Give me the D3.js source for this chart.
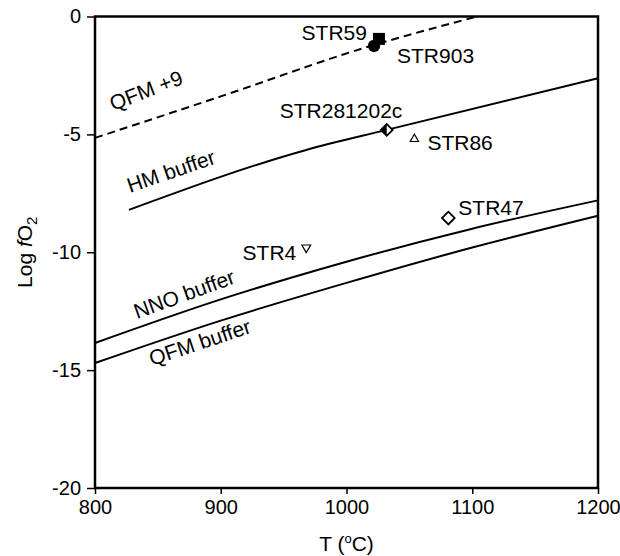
<!DOCTYPE html>
<html>
<head>
<meta charset="utf-8">
<script src="https://cdn.jsdelivr.net/npm/d3@7"></script>
<style>
  html, body { margin: 0; padding: 0; background: #fff; }
  svg { display: block; font-family: "Liberation Sans", Arial, Helvetica, sans-serif; }
</style>
</head>
<body>
<svg id="chart" width="620" height="556"></svg>
<script>
// ---- data ----
const xTicks = [800, 900, 1000, 1100, 1200];
const yTicks = [0, -5, -10, -15, -20];

const bufferT = [800, 900, 1000, 1100, 1200];
const nnoLog = [-13.85, -12.0, -10.4, -9.0, -7.8];
const qfmLog = [-14.7, -12.9, -11.3, -9.8, -8.45];

const hmT = [827, 968, 1032, 1200];
const hmLog = [-8.2, -5.66, -4.81, -2.62];

const qfm9T = [800, 900, 1013, 1104];
const qfm9Log = [-5.15, -3.39, -1.35, 0];

const sampleNames = ["STR59", "STR903", "STR281202c", "STR86", "STR47", "STR4"];
const sampleT = [1025.8, 1021.9, 1032, 1054, 1081, 968];
const sampleLog = [-0.95, -1.25, -4.81, -5.2, -8.55, -9.8];
const sampleSymbol = ["square", "circle", "halfDiamond", "triangleUp", "diamond", "triangleDown"];

// ---- layout / style ----
const W = 620, H = 556;
const m = { left: 95, right: 22, top: 16.5, bottom: 68 };
const svg = d3.select("#chart");

const x = d3.scaleLinear().domain([800, 1200]).range([m.left, W - m.right]);
const y = d3.scaleLinear().domain([-20, 0]).range([H - m.bottom, m.top]);

const line = d3.line().x(d => x(d[0])).y(d => y(d[1])).curve(d3.curveMonotoneX);

// buffer curves
svg.append("path").datum(d3.zip(bufferT, nnoLog)).attr("d", line)
  .attr("fill", "none").attr("stroke", "#000").attr("stroke-width", 2);
svg.append("path").datum(d3.zip(bufferT, qfmLog)).attr("d", line)
  .attr("fill", "none").attr("stroke", "#000").attr("stroke-width", 2);
svg.append("path").datum(d3.zip(hmT, hmLog)).attr("d", line)
  .attr("fill", "none").attr("stroke", "#000").attr("stroke-width", 2);
svg.append("path").datum(d3.zip(qfm9T, qfm9Log)).attr("d", line)
  .attr("fill", "none").attr("stroke", "#000").attr("stroke-width", 2)
  .attr("stroke-dasharray", "8,5");

// curve labels (rotated)
const curveLabels = [
  { text: "QFM +9", px: 113, py: 111, rot: -21 },
  { text: "HM buffer", px: 130, py: 193, rot: -19 },
  { text: "NNO buffer", px: 137, py: 319, rot: -20 },
  { text: "QFM buffer", px: 152, py: 366, rot: -18.5 }
];
svg.selectAll("text.curve").data(curveLabels).join("text")
  .attr("class", "curve")
  .attr("transform", d => `translate(${d.px},${d.py}) rotate(${d.rot})`)
  .attr("font-size", 21).text(d => d.text);

// frame
svg.append("rect")
  .attr("x", x(800)).attr("y", y(0))
  .attr("width", x(1200) - x(800)).attr("height", y(-20) - y(0))
  .attr("fill", "none").attr("stroke", "#000").attr("stroke-width", 2.5);

// axes
const xAxis = svg.append("g").attr("transform", `translate(0,${y(-20)})`)
  .call(d3.axisBottom(x).tickValues(xTicks).tickSize(6).tickPadding(6).tickFormat(d3.format("d")));
const yAxis = svg.append("g").attr("transform", `translate(${x(800)},0)`)
  .call(d3.axisLeft(y).tickValues(yTicks).tickSize(8).tickPadding(6).tickFormat(d => d === 0 ? "0" : String(d)));
[xAxis, yAxis].forEach(g => {
  g.select(".domain").remove();
  g.selectAll(".tick line").attr("stroke", "#000").attr("stroke-width", 1.5);
  g.selectAll(".tick text").attr("font-size", 20).attr("fill", "#000")
    .attr("font-family", "Liberation Sans, Arial, sans-serif");
});

// axis titles
const xt = svg.append("text").attr("x", (x(800) + x(1200)) / 2).attr("y", 551)
  .attr("text-anchor", "middle").attr("font-size", 21);
xt.append("tspan").text("T (");
xt.append("tspan").attr("font-size", 13).attr("dy", -8).text("o");
xt.append("tspan").attr("dy", 8).text("C)");

const yt = svg.append("text")
  .attr("transform", `translate(32,${(y(0) + y(-20)) / 2}) rotate(-90)`)
  .attr("text-anchor", "middle").attr("font-size", 21);
yt.append("tspan").text("Log ");
yt.append("tspan").attr("font-style", "italic").text("f");
yt.append("tspan").text("O");
yt.append("tspan").attr("font-size", 15).attr("dy", 5).text("2");

// samples
const labelPos = {
  STR59: { dx: -12, dy: 1, anchor: "end" },
  STR903: { dx: 23, dy: 17, anchor: "start" },
  STR281202c: { dx: -107, dy: -12, anchor: "start" },
  STR86: { dx: 13, dy: 11, anchor: "start" },
  STR47: { dx: 10, dy: -3.5, anchor: "start" },
  STR4: { dx: -10, dy: 12, anchor: "end" }
};

const samples = d3.range(sampleNames.length).map(i => ({
  name: sampleNames[i], T: sampleT[i], v: sampleLog[i], sym: sampleSymbol[i]
}));

const defs = svg.append("defs");
defs.append("clipPath").attr("id", "lefthalf")
  .append("rect").attr("x", -20).attr("y", -20).attr("width", 20).attr("height", 40);

samples.forEach(s => {
  const g = svg.append("g").attr("transform", `translate(${x(s.T)},${y(s.v)})`);
  if (s.sym === "square") {
    g.append("path").attr("d", d3.symbol(d3.symbolSquare, 144)()).attr("fill", "#000");
  } else if (s.sym === "circle") {
    g.append("path").attr("d", d3.symbol(d3.symbolCircle, 120)()).attr("fill", "#000");
  } else if (s.sym === "halfDiamond") {
    const p = d3.symbol(d3.symbolSquare, 70)();
    g.append("path").attr("d", p).attr("transform", "rotate(45)").attr("fill", "#fff")
      .attr("stroke", "#000").attr("stroke-width", 1.8);
    g.append("g").attr("clip-path", "url(#lefthalf)")
      .append("path").attr("d", p).attr("transform", "rotate(45)").attr("fill", "#000");
  } else if (s.sym === "diamond") {
    g.append("path").attr("d", d3.symbol(d3.symbolSquare, 80)()).attr("transform", "rotate(45)")
      .attr("fill", "#fff").attr("stroke", "#000").attr("stroke-width", 1.8);
  } else if (s.sym === "triangleUp") {
    g.append("path").attr("d", d3.symbol(d3.symbolTriangle, 30)())
      .attr("fill", "none").attr("stroke", "#000").attr("stroke-width", 1.2);
  } else if (s.sym === "triangleDown") {
    g.append("path").attr("d", d3.symbol(d3.symbolTriangle, 34)()).attr("transform", "rotate(180)")
      .attr("fill", "none").attr("stroke", "#000").attr("stroke-width", 1.2);
  }
  const lp = labelPos[s.name];
  svg.append("text").attr("x", x(s.T) + lp.dx).attr("y", y(s.v) + lp.dy)
    .attr("text-anchor", lp.anchor).attr("font-size", 21).text(s.name);
});
</script>
</body>
</html>
